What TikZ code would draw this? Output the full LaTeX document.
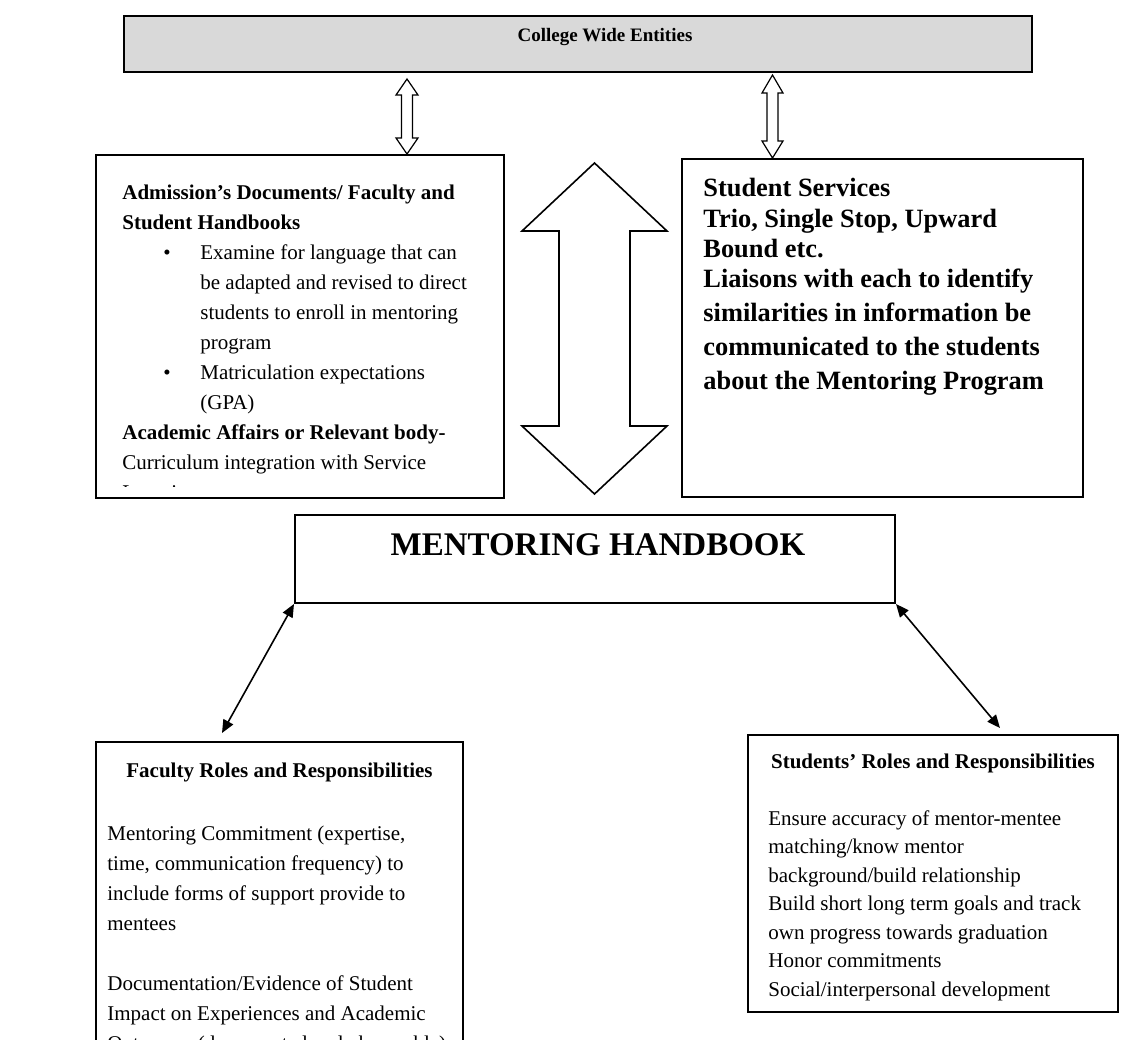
\documentclass[tikz,border=0pt]{standalone}
\usepackage{fontspec}
\setmainfont{Liberation Serif}
\usetikzlibrary{arrows.meta}
\definecolor{topgray}{RGB}{217,217,217}
\begin{document}
\begin{tikzpicture}[x=0.5pt,y=-0.5pt,
  box/.style={draw=black, line width=1pt, fill=white, inner sep=0pt},
  hollow/.style={draw=black, line width=0.6pt, fill=white, line join=miter},
  link/.style={line width=0.8pt, {Triangle[length=6.5pt,width=5.5pt]}-{Triangle[length=6.5pt,width=5.5pt]}},
  body/.style={inner sep=0pt, align=left, font=\fontsize{10.5}{15}\selectfont},
  head/.style={inner sep=0pt, font=\bfseries\fontsize{10.5}{15}\selectfont},
  ]
\useasboundingbox (0,0) rectangle (1148,1040);
\clip (0,0) rectangle (1148,1040);
\fill[white] (0,0) rectangle (1148,1040);

% top bar
\node[box, fill=topgray, minimum width=454pt, minimum height=28pt] (top) at (578,44) {};
\node[inner sep=0pt, anchor=base, font=\bfseries\fontsize{9.5}{11}\selectfont] (toptxt) at (605,41) {College Wide Entities};

% small hollow double arrows
\draw[hollow] (407,79) -- (418,95) -- (412.5,95) -- (412.5,138) -- (418,138) -- (407,154) -- (396,138) -- (401.5,138) -- (401.5,95) -- (396,95) -- cycle;
\draw[hollow] (772.5,75) -- (783,93) -- (778,93) -- (778,141) -- (783,141) -- (772.5,158) -- (762,141) -- (767,141) -- (767,93) -- (762,93) -- cycle;

% upper left box
\node[box, minimum width=204pt, minimum height=171.5pt] (adm) at (300,326.5) {};
\begin{scope}
\clip (96,155) rectangle (504,486);
\node[body, anchor=north west] (admtxt) at (122,185) {\textbf{Admission’s Documents/ Faculty and}\\
\textbf{Student Handbooks}\\
\hspace*{20.5pt}\makebox[18.5pt][l]{•}Examine for language that can\\
\hspace*{39pt}be adapted and revised to direct\\
\hspace*{39pt}students to enroll in mentoring\\
\hspace*{39pt}program\\
\hspace*{20.5pt}\makebox[18.5pt][l]{•}Matriculation expectations\\
\hspace*{39pt}(GPA)\\
\textbf{Academic Affairs or Relevant body-}\\
Curriculum integration with Service\\
Learning};
\end{scope}

% big hollow double arrow
\draw[hollow, line width=0.8pt] (594.5,163) -- (667,231) -- (630,231) -- (630,426) -- (667,426) -- (594.5,494) -- (522,426) -- (559,426) -- (559,231) -- (522,231) -- cycle;

% upper right box
\node[box, minimum width=200.5pt, minimum height=169pt] (svc) at (882.5,328) {};
\node[inner sep=0pt, align=left, anchor=north west, font=\bfseries\fontsize{13.2}{15.2}\selectfont] (svctxt) at (703,178) {Student Services\\
Trio, Single Stop, Upward\\
Bound etc.\\
Liaisons with each to identify\\[1.8pt]
similarities in information be\\[1.8pt]
communicated to the students\\[1.8pt]
about the Mentoring Program};

% mentoring handbook
\node[box, minimum width=300pt, minimum height=44pt] (mh) at (595,559) {};
\node[inner sep=0pt, font=\bfseries\fontsize{16.5}{20}\selectfont] (mhtxt) at (598,545) {MENTORING HANDBOOK};

% faculty box
\node[box, minimum width=183.5pt, minimum height=169pt] (fac) at (279.5,911) {};
\node[head] (factitle) at (279.5,772) {Faculty Roles and Responsibilities};
\node[body, anchor=north west] (factxt) at (107,826) {Mentoring Commitment (expertise,\\
time, communication frequency) to\\
include forms of support provide to\\
mentees\\[15pt]
Documentation/Evidence of Student\\
Impact on Experiences and Academic\\
Outcomes (documented and observable)};

% students box
\node[box, minimum width=185pt, minimum height=138.5pt] (stu) at (933,873.5) {};
\node[head] (stutitle) at (933,763) {Students’ Roles and Responsibilities};
\node[body, anchor=north west, font=\fontsize{10.5}{14.25}\selectfont] (stutxt) at (768,810) {Ensure accuracy of mentor-mentee\\
matching/know mentor\\
background/build relationship\\
Build short long term goals and track\\
own progress towards graduation\\
Honor commitments\\
Social/interpersonal development};

% connectors
\coordinate (fa) at (222,733);
\coordinate (sa) at (1000,728);
\draw[link] (mh.south west) -- (fa);
\draw[link] (mh.south east) -- (sa);
\end{tikzpicture}
\end{document}
